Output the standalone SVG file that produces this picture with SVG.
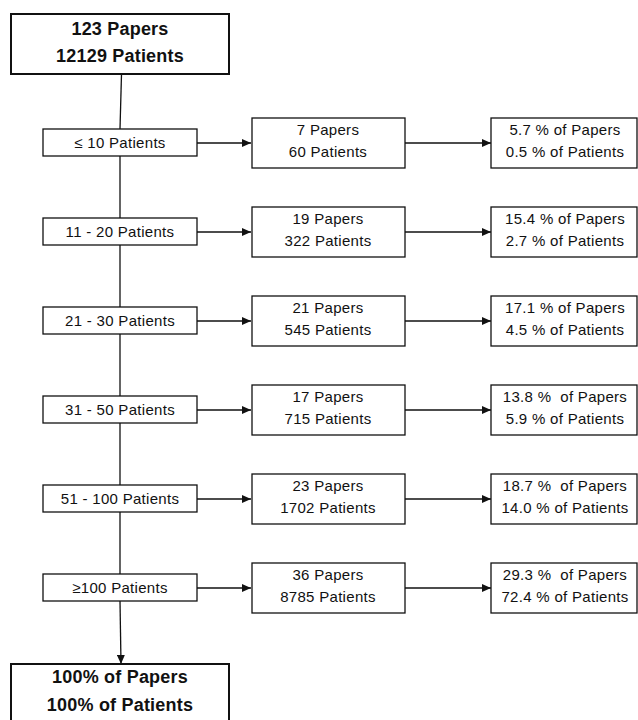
<svg xmlns="http://www.w3.org/2000/svg" width="638" height="720" viewBox="0 0 638 720">
<style>
.bx{fill:#fff;stroke:#111;stroke-width:1.3}
.bb{fill:#fff;stroke:#111;stroke-width:2}
.t{font-family:"Liberation Sans",Arial,sans-serif;font-size:15px;letter-spacing:0.3px;fill:#111;text-anchor:middle;white-space:pre}
.tb{font-family:"Liberation Sans",Arial,sans-serif;font-size:18px;font-weight:bold;letter-spacing:0.2px;fill:#111;text-anchor:middle;white-space:pre}
.ln{stroke:#111;stroke-width:1.3;fill:none}
</style>
<defs>
<marker id="ah" markerWidth="9" markerHeight="8" refX="9" refY="4" orient="auto" markerUnits="userSpaceOnUse">
<path d="M0,0 L9,4 L0,8 Z" fill="#111"/>
</marker>
</defs>
<g id="connectors">
<path class="ln" d="M121.5,74 L120,129"/>
<path class="ln" d="M120,156 L120,218"/>
<path class="ln" d="M120,245 L120,307"/>
<path class="ln" d="M120,334 L120,396"/>
<path class="ln" d="M120,423 L120,485"/>
<path class="ln" d="M120,512 L120,574"/>
<path class="ln" d="M120,601 L121,664" marker-end="url(#ah)"/>
<path class="ln" d="M197,143 L251,143" marker-end="url(#ah)"/>
<path class="ln" d="M405,143 L491,143" marker-end="url(#ah)"/>
<path class="ln" d="M197,232 L251,232" marker-end="url(#ah)"/>
<path class="ln" d="M405,232 L491,232" marker-end="url(#ah)"/>
<path class="ln" d="M197,321 L251,321" marker-end="url(#ah)"/>
<path class="ln" d="M405,321 L491,321" marker-end="url(#ah)"/>
<path class="ln" d="M197,410 L251,410" marker-end="url(#ah)"/>
<path class="ln" d="M405,410 L491,410" marker-end="url(#ah)"/>
<path class="ln" d="M197,499 L251,499" marker-end="url(#ah)"/>
<path class="ln" d="M405,499 L491,499" marker-end="url(#ah)"/>
<path class="ln" d="M197,588 L251,588" marker-end="url(#ah)"/>
<path class="ln" d="M405,588 L491,588" marker-end="url(#ah)"/>
</g>
<g id="top">
<rect class="bb" x="11" y="14" width="218" height="60"/>
<text class="tb" x="120" y="35">123 Papers</text>
<text class="tb" x="120" y="62">12129 Patients</text>
</g>
<g id="bottom">
<rect class="bb" x="11" y="664" width="218" height="70"/>
<text class="tb" x="120" y="683">100% of Papers</text>
<text class="tb" x="120" y="711">100% of Patients</text>
</g>
<g id="r1-range"><rect class="bx" x="43" y="129" width="154" height="27"/><text class="t" x="120" y="148">≤ 10 Patients</text></g>
<g id="r1-count"><rect class="bx" x="252" y="118" width="153" height="50"/><text class="t" x="328" y="135">7 Papers</text><text class="t" x="328" y="157">60 Patients</text></g>
<g id="r1-pct"><rect class="bx" x="491" y="118" width="146" height="50"/><text class="t" x="565" y="134.5">5.7 % of Papers</text><text class="t" x="565" y="156.5">0.5 % of Patients</text></g>
<g id="r2-range"><rect class="bx" x="43" y="218" width="154" height="27"/><text class="t" x="120" y="237">11 - 20 Patients</text></g>
<g id="r2-count"><rect class="bx" x="252" y="207" width="153" height="50"/><text class="t" x="328" y="224">19 Papers</text><text class="t" x="328" y="246">322 Patients</text></g>
<g id="r2-pct"><rect class="bx" x="491" y="207" width="146" height="50"/><text class="t" x="565" y="223.5">15.4 % of Papers</text><text class="t" x="565" y="245.5">2.7 % of Patients</text></g>
<g id="r3-range"><rect class="bx" x="43" y="307" width="154" height="27"/><text class="t" x="120" y="326">21 - 30 Patients</text></g>
<g id="r3-count"><rect class="bx" x="252" y="296" width="153" height="50"/><text class="t" x="328" y="313">21 Papers</text><text class="t" x="328" y="335">545 Patients</text></g>
<g id="r3-pct"><rect class="bx" x="491" y="296" width="146" height="50"/><text class="t" x="565" y="312.5">17.1 % of Papers</text><text class="t" x="565" y="334.5">4.5 % of Patients</text></g>
<g id="r4-range"><rect class="bx" x="43" y="396" width="154" height="27"/><text class="t" x="120" y="415">31 - 50 Patients</text></g>
<g id="r4-count"><rect class="bx" x="252" y="385" width="153" height="50"/><text class="t" x="328" y="402">17 Papers</text><text class="t" x="328" y="424">715 Patients</text></g>
<g id="r4-pct"><rect class="bx" x="491" y="385" width="146" height="50"/><text class="t" x="565" y="401.5">13.8 %  of Papers</text><text class="t" x="565" y="423.5">5.9 % of Patients</text></g>
<g id="r5-range"><rect class="bx" x="43" y="485" width="154" height="27"/><text class="t" x="120" y="504">51 - 100 Patients</text></g>
<g id="r5-count"><rect class="bx" x="252" y="474" width="153" height="50"/><text class="t" x="328" y="491">23 Papers</text><text class="t" x="328" y="513">1702 Patients</text></g>
<g id="r5-pct"><rect class="bx" x="491" y="474" width="146" height="50"/><text class="t" x="565" y="490.5">18.7 %  of Papers</text><text class="t" x="565" y="512.5">14.0 % of Patients</text></g>
<g id="r6-range"><rect class="bx" x="43" y="574" width="154" height="27"/><text class="t" x="120" y="593">≥100 Patients</text></g>
<g id="r6-count"><rect class="bx" x="252" y="563" width="153" height="50"/><text class="t" x="328" y="580">36 Papers</text><text class="t" x="328" y="602">8785 Patients</text></g>
<g id="r6-pct"><rect class="bx" x="491" y="563" width="146" height="50"/><text class="t" x="565" y="579.5">29.3 %  of Papers</text><text class="t" x="565" y="601.5">72.4 % of Patients</text></g>
</svg>
